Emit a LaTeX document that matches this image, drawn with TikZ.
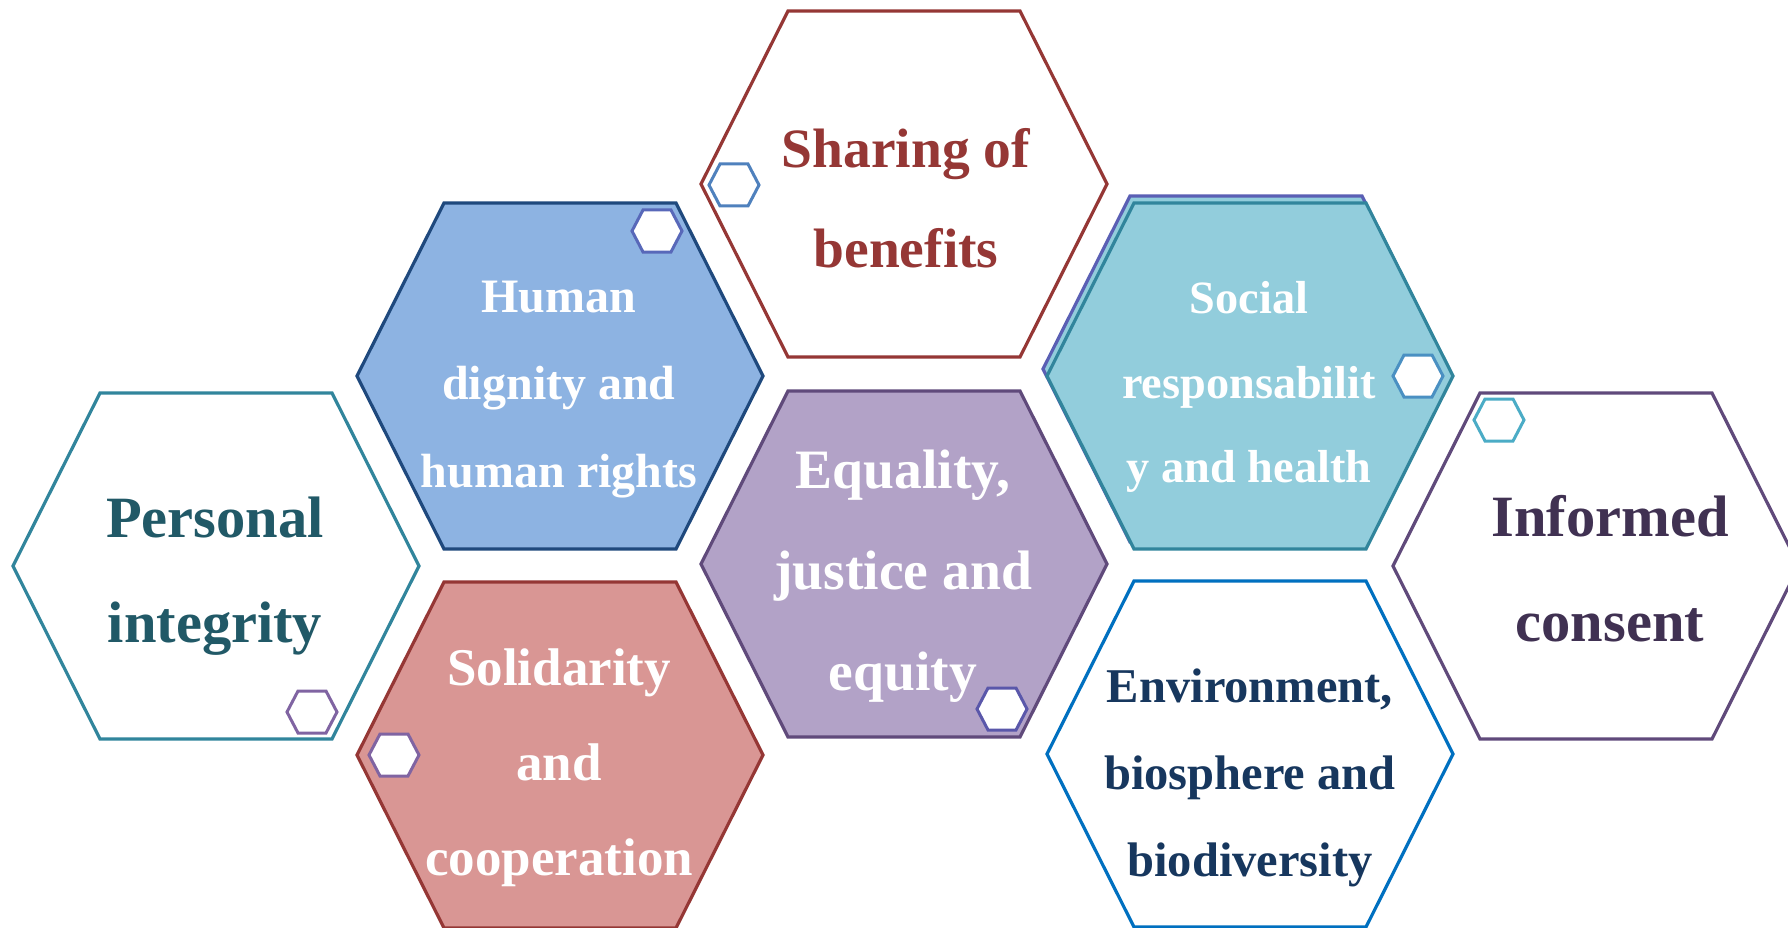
\documentclass[tikz,border=0pt]{standalone}
\usepackage{fontspec}
\setmainfont{Liberation Serif}
\definecolor{tealline}{RGB}{49,133,156}
\definecolor{tealtext}{RGB}{33,89,103}
\definecolor{darkblue}{RGB}{31,73,125}
\definecolor{bluefill}{RGB}{141,179,226}
\definecolor{redline}{RGB}{149,55,53}
\definecolor{redfill}{RGB}{217,150,148}
\definecolor{cyanfill}{RGB}{146,205,220}
\definecolor{shadowpurple}{RGB}{90,95,180}
\definecolor{purpleline}{RGB}{96,74,123}
\definecolor{purpletext}{RGB}{64,49,82}
\definecolor{lilacfill}{RGB}{178,162,199}
\definecolor{envline}{RGB}{0,112,192}
\definecolor{envtext}{RGB}{23,55,94}
\definecolor{smpurple}{RGB}{128,100,162}
\definecolor{smviolet}{RGB}{88,104,185}
\definecolor{smblue}{RGB}{79,129,189}
\definecolor{smsteel}{RGB}{74,144,194}
\definecolor{smcyan}{RGB}{75,172,198}
\definecolor{smindigo}{RGB}{90,87,170}
\newcommand\bighex[2]{%
  \path[#2] (#1) +(-203,0) -- +(-116,-173) -- +(116,-173) -- +(203,0) -- +(116,173) -- +(-116,173) -- cycle;}
\newcommand\smallhex[2]{%
  \path[#2] (#1) +(-25,0) -- +(-14,-21) -- +(14,-21) -- +(25,0) -- +(14,21) -- +(-14,21) -- cycle;}
\tikzset{
  hexline/.style={draw=#1, line width=3.2pt, line join=miter},
  minihex/.style={draw=#1, fill=white, line width=3pt, line join=miter},
  lbl/.style={inner sep=0pt, align=center, font=\bfseries},
}
\begin{document}
\begin{tikzpicture}[x=1pt,y=-1pt]
\useasboundingbox[fill=white] (0,0) rectangle (1788,928);
% centres
\coordinate (cPI) at (216,566);
\coordinate (cHD) at (560,376);
\coordinate (cSB) at (904,184);
\coordinate (cEQ) at (904,564);
\coordinate (cSR) at (1250,376);
\coordinate (cSRs) at (1246,369);
\coordinate (cIC) at (1596,566);
\coordinate (cSC) at (560,755);
\coordinate (cEB) at (1250,754);
% big hexagons
\bighex{cPI}{hexline=tealline, fill=white}
\bighex{cHD}{hexline=darkblue, fill=bluefill}
\bighex{cSB}{hexline=redline, fill=white}
\bighex{cEQ}{hexline=purpleline, fill=lilacfill}
\bighex{cSRs}{hexline=shadowpurple, fill=cyanfill}
\bighex{cSR}{hexline=tealline, fill=cyanfill}
\bighex{cIC}{hexline=purpleline, fill=white}
\bighex{cSC}{hexline=redline, fill=redfill}
\bighex{cEB}{hexline=envline, fill=white}
% labels
\node[lbl, text=tealtext, font=\bfseries\fontsize{58.5}{105}\selectfont] (tPI) at (215,576) {Personal\\integrity};
\node[lbl, text=white, font=\bfseries\fontsize{48}{87.5}\selectfont] (tHD) at (559,389.5) {Human\\dignity and\\human rights};
\node[lbl, text=redline, font=\bfseries\fontsize{55.5}{100}\selectfont] (tSB) at (906,198) {Sharing of\\benefits};
\node[lbl, text=white, font=\bfseries\fontsize{55.6}{101}\selectfont] (tEQ) at (903,576) {Equality,\\justice and\\equity};
\node[lbl, text=white, font=\bfseries\fontsize{46.3}{84.5}\selectfont] (tSR) at (1249,387) {Social\\responsabilit\\y and health};
\node[lbl, text=purpletext, font=\bfseries\fontsize{58.5}{105}\selectfont] (tIC) at (1610,569) {Informed\\consent};
\node[lbl, text=white, font=\bfseries\fontsize{53}{95}\selectfont] (tSC) at (559,768) {Solidarity\\and\\cooperation};
\node[lbl, text=envtext, font=\bfseries\fontsize{48.5}{87}\selectfont] (tEB) at (1250,778) {Environment,\\biosphere and\\biodiversity};
% small hexagons
\coordinate (sPI) at (312,712);
\coordinate (sHD) at (657,231);
\coordinate (sSB) at (734,185);
\coordinate (sSR) at (1418,376);
\coordinate (sIC) at (1499,420);
\coordinate (sSC) at (394,755);
\coordinate (sEQ) at (1002,709);
\smallhex{sPI}{minihex=smpurple}
\smallhex{sHD}{minihex=smviolet}
\smallhex{sSB}{minihex=smblue}
\smallhex{sSR}{minihex=smsteel}
\smallhex{sIC}{minihex=smcyan}
\smallhex{sSC}{minihex=smpurple}
\smallhex{sEQ}{minihex=smindigo}
\end{tikzpicture}
\end{document}
